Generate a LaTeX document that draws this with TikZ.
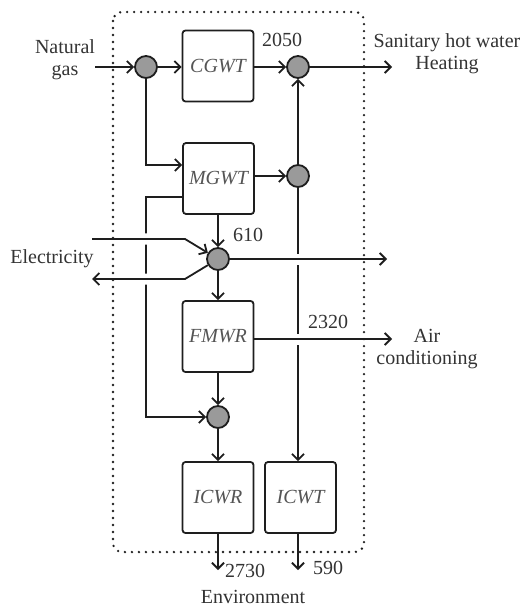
\documentclass[tikz,border=0pt]{standalone}
\usepackage{fontspec}
\setmainfont{Liberation Serif}
\usetikzlibrary{arrows.meta,positioning,backgrounds}
\definecolor{ink}{HTML}{1E1E1E}
\definecolor{label}{HTML}{333333}
\definecolor{unit}{HTML}{555555}
\definecolor{hubgray}{HTML}{9A9A9A}

\begin{document}
\begin{tikzpicture}[x=1pt,y=-1pt,line cap=round,
  flow/.style={draw=ink,line width=1.8pt,-{Straight Barb[length=6pt,width=12pt]}},
  bridge/.style={preaction={draw=white,line width=11pt,line cap=butt,-}},
  unitbox/.style={draw=ink,line width=1.8pt,fill=white,rounded corners=3pt,
    minimum width=71pt,minimum height=71pt,inner sep=0pt,
    font=\fontsize{20}{22}\selectfont\itshape,text=unit},
  hub/.style={circle,draw=ink,line width=1.8pt,fill=hubgray,minimum size=22pt,inner sep=0pt},
  txt/.style={text=label,font=\fontsize{20}{22}\selectfont,align=center,inner sep=0pt}]
  \useasboundingbox (0,0) rectangle (523,609);

  % units
  \node[unitbox] (CGWT) at (218,66) {CGWT};
  \node[unitbox] (MGWT) at (218.5,178.5) {MGWT};
  \node[unitbox] (FMWR) at (218,336.5) {FMWR};
  \node[unitbox] (ICWR) at (218,497.5) {ICWR};
  \node[unitbox] (ICWT) at (300.5,497.5) {ICWT};

  % junctions
  \node[hub] (j1) at (146,67) {};
  \node[hub] (j2) at (298,67) {};
  \node[hub] (j3) at (298,176) {};
  \node[hub] (j4) at (218,259) {};
  \node[hub] (j5) at (218,417) {};

  % free ends
  \coordinate (gasin) at (95,67);
  \coordinate (heatout) at (392,67);
  \coordinate (ein) at (92,239);
  \coordinate (einkink) at (185,239);
  \coordinate (eout) at (92,279);
  \coordinate (eoutkink) at (185,279);
  \coordinate (powout) at (387,259);
  \coordinate (coolout) at (392,339);
  \coordinate (bend) at (146,417);
  \coordinate (envR) at (218,570);
  \coordinate (envT) at (298,570);

  % labels
  \node[txt] (gas) at (65,60) {Natural\\gas};
  \node[txt] (heat) at (447,54) {Sanitary hot water\\Heating};
  \node[txt] (elec) at (52,259) {Electricity};
  \node[txt] (aircond) at (427,349) {Air\\conditioning};
  \node[txt] (env) at (253,597) {Environment};
  \node[txt] (q2050) at (282,40) {2050};
  \node[txt] (q610) at (248,235) {610};
  \node[txt] (q2320) at (328,322) {2320};
  \node[txt] (q2730) at (245,571) {2730};
  \node[txt] (q590) at (328,568) {590};

  \begin{scope}[on background layer]
    \draw[flow] (j3) -- (j3 |- ICWT.north);
    \draw[flow] ([yshift=-18.5pt]MGWT.west) -| (bend) -- (j5);
    \draw[flow,bridge] (ein) -- (einkink) -- (j4);
    \draw[flow,bridge] (j4) -- (eoutkink) -- (eout);
    \draw[flow,bridge] (j4) -- (powout);
    \draw[flow,bridge] (FMWR.east |- coolout) -- (coolout);
    \draw[flow] (gasin) -- (j1);
    \draw[flow] (j1) -- (CGWT.west |- j1);
    \draw[flow] (CGWT.east |- j2) -- (j2);
    \draw[flow] (j2) -- (heatout);
    \draw[flow] (j1) |- ([yshift=13.5pt]MGWT.west);
    \draw[flow] (MGWT.east |- j3) -- (j3);
    \draw[flow] (j3) -- (j2);
    \draw[flow] (MGWT.south -| j4) -- (j4);
    \draw[flow] (j4) -- (FMWR.north);
    \draw[flow] (FMWR.south) -- (j5);
    \draw[flow] (j5) -- (ICWR.north);
    \draw[flow] (ICWR.south) -- (envR);
    \draw[flow] (ICWT.south -| envT) -- (envT);
  \end{scope}

  \draw[ink,line width=2.6pt,dash pattern=on 0pt off 7pt,rounded corners=9pt] (113,12) rectangle (364,552);
\end{tikzpicture}
\end{document}
